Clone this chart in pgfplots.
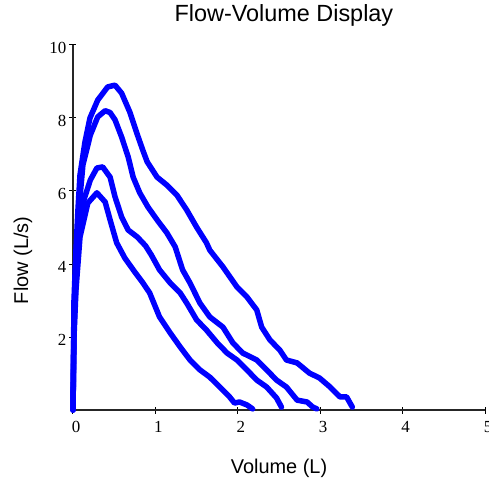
\documentclass[border=0pt]{standalone}
\usepackage{fontspec}
\setmainfont{Liberation Serif}
\setsansfont{Liberation Sans}
\usepackage{pgfplots}
\pgfplotsset{compat=1.18}
\tikzset{flow/.style={color=blue, mark=none, line width=5.5bp, line join=round, line cap=round}}

\begin{document}
\begin{tikzpicture}
\begin{axis}[
  scale only axis, width=412bp, height=365bp,
  xmin=0, xmax=5, ymin=0, ymax=10,
  axis x line=bottom, axis y line=left,
  axis line style={-, line width=1.3bp, black!85},
  xtick={0,1,2,3,4,5}, ytick={2,4,6,8,10},
  tick align=center, major tick length=7bp,
  tick style={line width=1bp, black},
  /pgf/number format/assume math mode=true,
  ticklabel style={font=\fontsize{17}{20}\selectfont},
  xticklabel style={inner sep=0pt, anchor=north, yshift=-8bp, xshift=3bp},
  yticklabel style={inner sep=0pt, anchor=east, xshift=-3bp, yshift=-3bp},
  title={Flow-Volume Display},
  title style={font=\sffamily\fontsize{23.5}{26}\selectfont, at={(axis description cs:0.512,1.048)}, anchor=base},
  xlabel={Volume (L)},
  xlabel style={font=\sffamily\fontsize{20}{24}\selectfont, at={(axis description cs:0.5,-0.175)}, anchor=base},
  ylabel={Flow (L/s)},
  ylabel style={font=\sffamily\fontsize{20}{24}\selectfont, at={(axis description cs:-0.109,0.41)}, anchor=base, rotate=0},
  clip=false,
]
% curve A (peak about 8.9)
\addplot[flow] coordinates {(0,0) (0.012,3.0) (0.036,4.38) (0.06,5.48) (0.085,6.44) (0.145,7.34) (0.206,8.0) (0.30,8.49) (0.42,8.85) (0.51,8.90) (0.59,8.68) (0.69,8.16) (0.78,7.55) (0.85,7.1) (0.90,6.8) (1.02,6.38) (1.14,6.16) (1.26,5.89) (1.38,5.48) (1.50,5.01) (1.62,4.58) (1.66,4.38) (1.82,3.92) (1.99,3.37) (2.11,3.10) (2.23,2.74) (2.29,2.27) (2.39,1.92) (2.51,1.64) (2.59,1.37) (2.72,1.29) (2.87,1.01) (2.99,0.88) (3.12,0.63) (3.24,0.36) (3.32,0.36) (3.39,0.08)};
% curve B (peak about 8.2)
\addplot[flow] coordinates {(0,0) (0.012,2.5) (0.036,4.1) (0.06,5.2) (0.12,6.71) (0.21,7.53) (0.30,8.03) (0.39,8.2) (0.45,8.15) (0.51,7.95) (0.59,7.48) (0.67,6.93) (0.73,6.38) (0.81,5.95) (0.91,5.56) (1.02,5.21) (1.14,4.85) (1.24,4.47) (1.33,3.84) (1.42,3.48) (1.54,2.93) (1.66,2.55) (1.82,2.27) (1.94,1.84) (2.06,1.56) (2.23,1.37) (2.35,1.10) (2.47,0.82) (2.59,0.63) (2.72,0.27) (2.84,0.22) (2.91,0.08) (2.96,0.03)};
% curve C (peak about 6.7)
\addplot[flow] coordinates {(0,0) (0.012,2.19) (0.036,3.56) (0.073,4.66) (0.12,5.67) (0.21,6.30) (0.29,6.63) (0.36,6.66) (0.45,6.38) (0.51,5.84) (0.59,5.29) (0.67,4.93) (0.78,4.74) (0.88,4.5) (0.95,4.25) (1.05,3.84) (1.18,3.48) (1.30,3.21) (1.38,2.93) (1.50,2.47) (1.62,2.19) (1.75,1.84) (1.87,1.56) (1.99,1.37) (2.11,1.10) (2.23,0.82) (2.35,0.63) (2.47,0.33) (2.53,0.08)};
% curve D (peak about 6.0)
\addplot[flow] coordinates {(0,0) (0.012,2.0) (0.036,3.29) (0.085,4.74) (0.18,5.67) (0.29,5.95) (0.39,5.70) (0.45,5.21) (0.53,4.58) (0.63,4.16) (0.75,3.78) (0.84,3.51) (0.93,3.21) (1.05,2.55) (1.18,2.11) (1.30,1.73) (1.42,1.37) (1.54,1.10) (1.66,0.90) (1.78,0.63) (1.90,0.36) (1.96,0.19) (2.02,0.22) (2.11,0.14) (2.18,0.03)};
\end{axis}
\pgfresetboundingbox
\path[use as bounding box] ([xshift=-73bp,yshift=-72bp]current axis.south west) rectangle ([xshift=4bp,yshift=45bp]current axis.north east);
\end{tikzpicture}
\end{document}
